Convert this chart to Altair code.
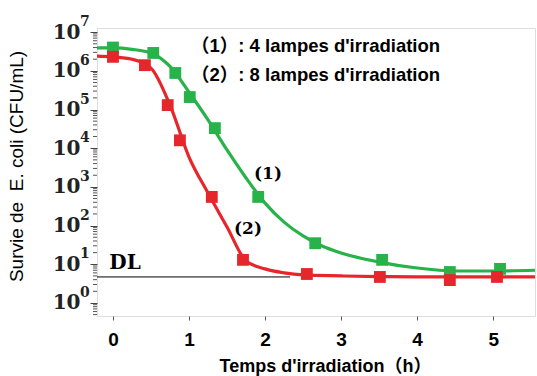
import altair as alt
import pandas as pd

# ---- data ----
# measured points, curve (1): 4 lamps
t_g = [0.0, 0.53, 0.82, 1.01, 1.34, 1.91, 2.66, 3.54, 4.43, 5.09]
v_g = [4.0e6, 2.9e6, 8.8e5, 2.1e5, 3.3e4, 5.5e2, 35, 13, 6.3, 7.6]
# measured points, curve (2): 8 lamps
t_r = [0.0, 0.42, 0.72, 0.88, 1.30, 1.71, 2.55, 3.51, 4.43, 5.05]
v_r = [2.3e6, 1.4e6, 1.3e5, 1.6e4, 5.5e2, 13, 5.6, 4.7, 3.9, 4.7]

# fitted curves
ct_g = [-0.21, 0.0, 0.25, 0.5, 0.75, 1.0, 1.25, 1.5, 1.75, 2.0, 2.25, 2.5, 2.75, 3.0, 3.5, 4.0, 4.5, 5.0, 5.55]
cv_g = [3.9e6, 3.9e6, 3.6e6, 2.9e6, 1.3e6, 2.8e5, 5.4e4, 9.0e3, 1.7e3, 3.8e2, 123, 54, 29.6, 19.6, 11.4, 8.0, 6.7, 6.7, 7.0]
ct_r = [-0.21, 0.0, 0.25, 0.5, 0.75, 1.0, 1.25, 1.5, 1.75, 2.0, 2.25, 2.5, 3.0, 3.5, 4.0, 4.5, 5.0, 5.55]
cv_r = [2.4e6, 2.3e6, 2.0e6, 1.18e6, 1.3e5, 5.9e3, 6.95e2, 92, 12.2, 7.6, 6.0, 5.3, 5.0, 4.8, 4.7, 4.7, 4.7, 4.7]

series_names = ["(1)", "(2)"]
series_colors = ["#27b24a", "#e6262b"]

dl_value = 4.7
dl_end = 2.33
x_min, x_max = -0.21, 5.55
y_min, y_max = 0.46, 1.28e7

x_ticks = [0, 0.5, 1, 1.5, 2, 2.5, 3, 3.5, 4, 4.5, 5, 5.5]
y_major = [1, 10, 100, 1e3, 1e4, 1e5, 1e6, 1e7]
y_exp = ["0", "1", "2", "3", "4", "5", "6", "7"]
y_minor = [m * 10 ** e for e in range(-1, 7) for m in range(2, 10)
           if y_min <= m * 10 ** e <= y_max]

legend_lines = ["（1）: 4 lampes d'irradiation", "（2）: 8 lampes d'irradiation"]

# ---- tables ----
pts = pd.DataFrame({
    "t": t_g + t_r,
    "v": v_g + v_r,
    "s": [series_names[0]] * len(t_g) + [series_names[1]] * len(t_r),
})
curves = pd.DataFrame({
    "t": ct_g + ct_r,
    "v": cv_g + cv_r,
    "s": [series_names[0]] * len(ct_g) + [series_names[1]] * len(ct_r),
})
majors = pd.DataFrame({"v": y_major, "e": y_exp})
minors = pd.DataFrame({"v": y_minor})
dl = pd.DataFrame({"x0": [x_min], "x1": [dl_end], "v": [dl_value]})

xs = alt.Scale(domain=[x_min, x_max], nice=False, zero=False)
ys = alt.Scale(type="log", domain=[y_min, y_max], nice=False)
col = alt.Scale(domain=series_names, range=series_colors)

x_axis = alt.Axis(
    values=x_ticks, grid=False, domain=False, tickSize=4, tickColor="#555",
    labelExpr="datum.value % 1 == 0 ? format(datum.value, 'd') : ''",
    labelFont="Liberation Sans", labelFontWeight="bold", labelFontSize=19,
    labelColor="black", labelPadding=10,
    title="Temps d'irradiation（h）", titleFont="Liberation Sans, Noto Sans CJK SC",
    titleFontWeight="bold", titleFontSize=18, titleColor="black",
    titleX=228, titleY=59, titleBaseline="bottom",
)
y_axis = alt.Axis(
    values=y_major, grid=False, domain=False, tickSize=7, tickColor="#444",
    labelExpr="'10'", labelFont="DejaVu Serif", labelFontWeight="bold",
    labelFontSize=20, labelColor="#222", labelPadding=10,
    title="Survie de\u00a0\u00a0E. coli (CFU/mL)", titleFont="Liberation Sans",
    titleFontWeight="normal", titleFontSize=19, titleColor="black",
    titleX=-71, titleY=138, titleBaseline="bottom",
)

base_x = alt.X("t:Q", scale=xs, axis=x_axis)
base_y = alt.Y("v:Q", scale=ys, axis=y_axis)

lines = alt.Chart(curves).mark_line(interpolate="monotone", strokeWidth=3.2).encode(
    x=base_x, y=base_y, color=alt.Color("s:N", scale=col, legend=None), detail="s:N"
)
points = alt.Chart(pts).mark_square(size=140, opacity=1).encode(
    x=alt.X("t:Q", scale=xs), y=alt.Y("v:Q", scale=ys),
    color=alt.Color("s:N", scale=col, legend=None),
)
dl_rule = alt.Chart(dl).mark_rule(color="black", strokeWidth=1).encode(
    x=alt.X("x0:Q", scale=xs), x2="x1:Q", y=alt.Y("v:Q", scale=ys)
)
minor_ticks = alt.Chart(minors).mark_rule(color="#555", strokeWidth=1).encode(
    y=alt.Y("v:Q", scale=ys), x=alt.value(-4), x2=alt.value(0)
)
exps = alt.Chart(majors).mark_text(
    align="left", baseline="middle", dy=-10, dx=0, font="DejaVu Serif",
    fontWeight="bold", fontSize=14, color="#222"
).encode(y=alt.Y("v:Q", scale=ys), x=alt.value(-17), text="e:N")


def label(txt, x, y, font, size, align="left"):
    return alt.Chart(pd.DataFrame({"l": [txt]})).mark_text(
        x=x, y=y, align=align, baseline="middle", font=font,
        fontWeight="bold", fontSize=size, color="black"
    ).encode(text="l:N")


texts = [
    label(legend_lines[0], 94, 18, "Liberation Sans, Noto Sans CJK SC", 18.5),
    label(legend_lines[1], 94, 47, "Liberation Sans, Noto Sans CJK SC", 18.5),
    label("(1)", 171, 146, "DejaVu Serif", 17, "center"),
    label("(2)", 151, 201, "DejaVu Serif", 17, "center"),
    label("DL", 28, 235, "DejaVu Serif", 20, "center"),
]

chart = alt.layer(dl_rule, lines, points, minor_ticks, exps, *texts).properties(
    width=438, height=288,
    padding={"left": 97, "top": 28, "right": 2, "bottom": 60},
    autosize=alt.AutoSizeParams(type="none"),
).configure_view(stroke="black", strokeWidth=1.5).configure(background="white")

chart.save("out.html", embed_options={"renderer": "svg", "actions": False})
